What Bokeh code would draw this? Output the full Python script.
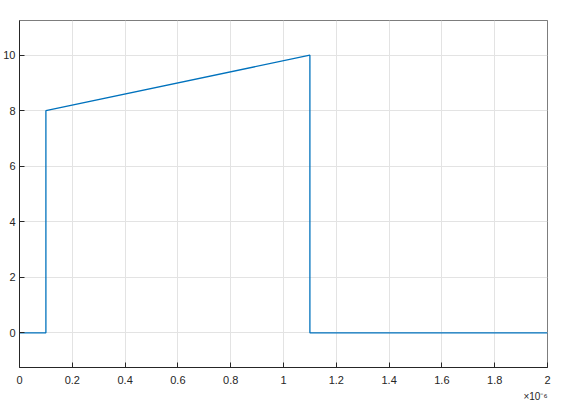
from bokeh.plotting import figure
from bokeh.models import Range1d, FixedTicker, CustomJSTickFormatter, Title
from bokeh.embed import file_html
from bokeh.resources import INLINE

# data (time in units of 1e-6 s)
t_us = [0.0, 0.1, 0.1, 1.1, 1.1, 2.0]
signal = [0, 0, 8, 10, 0, 0]
x_ticks = [0, 0.2, 0.4, 0.6, 0.8, 1.0, 1.2, 1.4, 1.6, 1.8, 2.0]
y_ticks = [0, 2, 4, 6, 8, 10]

FONT = "Liberation Sans"
AX = "#262626"

p = figure(width=557, height=404, output_backend="svg", toolbar_location=None,
           x_range=Range1d(0, 2), y_range=Range1d(-1.25, 11.25),
           min_border_left=0, min_border_top=20, min_border_right=10, min_border_bottom=0)
p.background_fill_color = "white"
p.border_fill_color = "white"
p.outline_line_color = AX
p.outline_line_alpha = 0.6

p.line(t_us, signal, line_color="#0072BD", line_width=1.3)

fmt = CustomJSTickFormatter(code="return String(Number(tick.toFixed(6)));")
for ax, ticks in ((p.xaxis[0], x_ticks), (p.yaxis[0], y_ticks)):
    ax.ticker = FixedTicker(ticks=ticks)
    ax.formatter = fmt
    ax.major_tick_in = 5
    ax.major_tick_out = 0
    ax.minor_tick_line_color = None
    ax.axis_line_color = AX
    ax.major_tick_line_color = AX
    ax.major_label_text_color = AX
    ax.major_label_text_font = FONT
    ax.major_label_text_font_size = "11px"
p.yaxis.major_label_standoff = 4
p.xaxis.major_label_standoff = 8

p.xgrid.ticker = FixedTicker(ticks=x_ticks)
p.ygrid.ticker = FixedTicker(ticks=y_ticks)
p.grid.grid_line_color = "#e3e3e3"
p.grid.grid_line_width = 1

p.add_layout(Title(text="×10⁻⁶", align="right", text_font=FONT, text_font_size="10px",
                   text_font_style="normal", text_color=AX, standoff=5), "below")

open("out.html", "w").write(file_html(p, INLINE))
